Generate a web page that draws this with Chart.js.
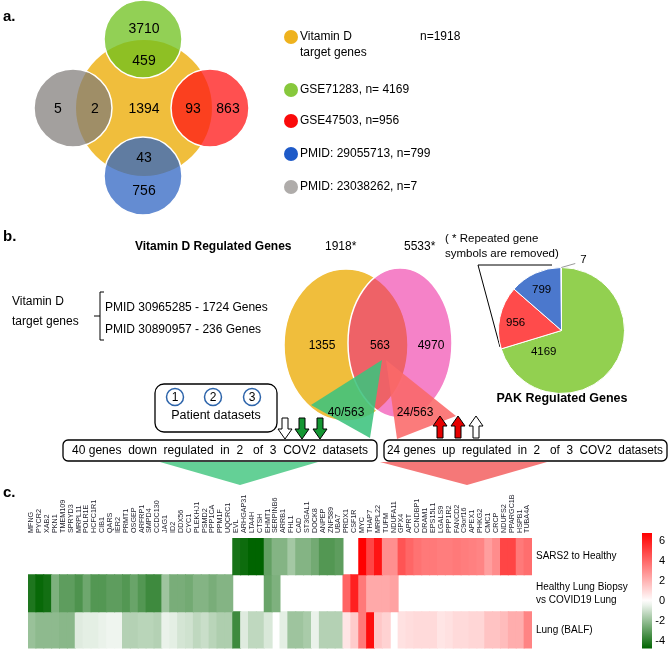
<!DOCTYPE html>
<html>
<head>
<meta charset="utf-8">
<title>Vitamin D and PAK regulated genes</title>
<script src="https://cdn.jsdelivr.net/npm/chart.js@4.4.1/dist/chart.umd.min.js"></script>
<style>
  html, body { margin: 0; padding: 0; background: #fff; }
  #page { position: relative; width: 671px; height: 659px; overflow: hidden; }
  #page canvas { position: absolute; }
</style>
</head>
<body>
<div id="page">
  <canvas id="venn" width="671" height="659" style="left:0;top:0"></canvas>
  <canvas id="pie" width="185" height="185" style="left:469px;top:238px"></canvas>
  <canvas id="heat" width="671" height="189" style="left:0;top:470px"></canvas>
</div>
<script>
const FONT = '"Liberation Sans", Arial, sans-serif';

// ---- panel a: vitamin D target genes vs other sets
const vennASets = ['Vitamin D target genes', 'GSE71283', 'GSE47503', 'PMID: 29055713', 'PMID: 23038262'];
const vennASizes = [1918, 4169, 956, 799, 7];
const vennAOnly = [1394, 3710, 863, 756, 5];
const vennAShared = [null, 459, 93, 43, 2];

// ---- panel b
const vennBTitle = 'Vitamin D Regulated Genes';
const vennBTotals = [1918, 5533];
const vennBCounts = [1355, 563, 4970];
const vitDSources = ['PMID 30965285 - 1724 Genes', 'PMID 30890957 - 236 Genes'];
const pakTitle = 'PAK Regulated Genes';
const pakSources = ['GSE71283', 'GSE47503', 'PMID: 29055713', 'PMID: 23038262'];
const pakCounts = [4169, 956, 799, 7];
const downGenes = 40;
const upGenes = 24;

// ---- panel c: heatmap
const genes = ['MFNG','PYCR2','XAB2','PKN1','TMEM109','SPRYD3','MRPL11','POLR1E','HCFC1R1','CIB1',
  'QARS','IER2','PRMT1','OSGEP','ARFRP1','SMPD4','CCDC130','JAG1','ID2','DDX56',
  'CYC1','PLEKHJ1','PSMD2','PPP1CA','PPM1F','UQCRC1','EVL','ARHGAP31','LTA4H','CTSH',
  'EHMT1','SERPINB6','ARRB1','FHL1','CAD','ST3GAL1','DOCK8','ANPEP','ZNF589','UBA7',
  'PRDX1','CSF1R','MYC','THAP7','MRPL22','TUFM','NDUFA11','GPX4','APRT','CCNDBP1',
  'DRAM1','EPS15L1','LGALS9','PPP1R2','FANCD2','C9orf16','APEX1','PHKG2','CMC1','CRCP',
  'NDUFS2','PPARGC1B','HSPB1','TUBA4A'];
const rowLabels = [['SARS2 to Healthy'], ['Healthy Lung Biopsy', 'vs COVID19 Lung'], ['Lung (BALF)']];
const sars2 = [
  null,null,null,null,null,null,null,null,null,null,
  null,null,null,null,null,null,null,null,null,null,
  null,null,null,null,null,null,
  -4.3,-4.5,-5,-5,-2.9,-2.3,-2.3,-1.7,-2.3,-2.3,-2.6,-3.2,-3.2,-3.0,
  null,null,
  6.8,5.0,6.3,3.0,3.0,4.6,4.1,3.8,3.6,3.6,3.5,3.5,3.6,3.5,3.4,3.3,2.6,3.1,5.0,5.0,3.6,3.9];
const biopsy = [
  -4.2,-4.6,-4.4,-2.4,-3.0,-3.0,-3.3,-2.7,-3.2,-3.2,
  -3.0,-3.0,-3.2,-2.8,-3.2,-3.6,-3.6,-1.8,-2.5,-2.5,
  -2.6,-2.3,-2.3,-2.5,-2.3,-2.3,
  null,null,null,null,-2.8,-2.4,null,null,null,null,null,null,null,null,
  4.2,6.0,3.6,2.3,2.3,2.3,2.5,
  null,null,null,null,null,null,null,null,null,null,null,null,null,null,null,null,null];
const balf = [
  -1.9,-2.1,-2.1,-2.1,-2.2,-2.2,-0.6,-0.5,-0.5,-0.4,
  -0.3,-0.3,-1.4,-1.4,-1.3,-1.3,-1.4,-0.4,-0.5,-0.8,
  -0.9,-1.2,-1.0,-1.3,-1.5,-1.5,
  -3.6,-0.6,-1.2,-1.2,-0.7,null,-0.5,-1.8,-1.8,-1.6,-0.4,-1.4,-1.4,-1.4,
  0.7,1.4,3.6,6.5,1.5,1.2,null,
  0.8,0.9,1.0,1.0,1.0,0.7,0.8,1.0,1.0,1.1,1.1,1.6,1.6,1.8,2.2,2.2,3.3];
const colorTicks = [6, 4, 2, 0, -2, -4];

// ---- layout (pixels)
const vennALayout = [
  { x: 144, y: 108, r: 68 },
  { x: 143, y: 39, r: 39 },
  { x: 210, y: 108, r: 39 },
  { x: 143, y: 176, r: 39 },
  { x: 73, y: 108, r: 39 }
];
const vennAFill = ['rgb(240,190,60)', 'rgba(109,192,28,0.75)', 'rgba(255,21,21,0.75)',
  'rgba(48,101,195,0.75)', 'rgba(128,124,120,0.72)'];
const vennAOnlyAt = [[144, 109], [144, 29], [228, 109], [144, 191], [58, 109]];
const vennASharedAt = [null, [144, 61], [193, 109], [144, 158], [95, 109]];
const legendDot = ['rgb(238,178,30)', 'rgb(135,200,60)', 'rgb(250,10,10)', 'rgb(30,90,200)', 'rgb(175,172,170)'];
const legendY = [37, 90, 121, 154, 187];

const vennBLayout = [
  { x: 346, y: 345, rx: 62, ry: 76, fill: 'rgb(240,190,60)' },
  { x: 400, y: 343, rx: 52, ry: 75, fill: 'rgba(235,5,145,0.5)' }
];
const vennBCountAt = [[322, 346], [380, 346], [431, 346]];

Chart.defaults.font.family = FONT;

function text(ctx, s, x, y, size, o = {}) {
  ctx.save();
  ctx.font = (o.bold ? 'bold ' : '') + size + 'px ' + FONT;
  ctx.fillStyle = o.color || '#000';
  ctx.textAlign = o.align || 'left';
  ctx.textBaseline = 'middle';
  if (o.maxW) ctx.fillText(s, x, y, o.maxW);
  else ctx.fillText(s, x, y);
  ctx.restore();
}

function poly(ctx, pts, fill, stroke) {
  ctx.beginPath();
  pts.forEach(([x, y], i) => (i ? ctx.lineTo(x, y) : ctx.moveTo(x, y)));
  ctx.closePath();
  if (fill) { ctx.fillStyle = fill; ctx.fill(); }
  if (stroke) { ctx.strokeStyle = stroke; ctx.lineWidth = 1; ctx.stroke(); }
}

function rbox(ctx, x, y, w, h, r) {
  ctx.beginPath();
  ctx.roundRect(x, y, w, h, r);
  ctx.strokeStyle = '#000';
  ctx.lineWidth = 1.3;
  ctx.stroke();
}

// vertical block arrow from tail to tip
function arrow(ctx, x, yTail, yTip, fill) {
  const d = Math.sign(yTip - yTail), yHead = yTip - d * 10;
  poly(ctx, [[x - 3, yTail], [x - 3, yHead], [x - 7, yHead], [x, yTip],
    [x + 7, yHead], [x + 3, yHead], [x + 3, yTail]], fill, '#000');
}

function ellipseImage(e) {
  const c = document.createElement('canvas');
  c.width = 2 * e.rx + 4;
  c.height = 2 * e.ry + 4;
  const g = c.getContext('2d');
  g.beginPath();
  g.ellipse(c.width / 2, c.height / 2, e.rx, e.ry, 0, 0, Math.PI * 2);
  g.fillStyle = e.fill;
  g.fill();
  g.strokeStyle = '#fff';
  g.lineWidth = 1.5;
  g.stroke();
  return c;
}

const annotations = {
  id: 'annotations',
  afterDatasetsDraw(chart) {
    const ctx = chart.ctx;
    // triangles from the overlap
    poly(ctx, [[382, 360], [311, 405], [370, 438]], 'rgba(60,195,125,0.88)');
    poly(ctx, [[386, 360], [456, 416], [397, 439]], 'rgba(250,105,105,0.88)');
    text(ctx, downGenes + '/' + vennBCounts[1], 346, 413, 12, { align: 'center' });
    text(ctx, upGenes + '/' + vennBCounts[1], 415, 413, 12, { align: 'center' });

    // panel a
    text(ctx, 'a.', 3, 17, 15, { bold: true });
    vennAOnly.forEach((v, i) => text(ctx, String(v), vennAOnlyAt[i][0], vennAOnlyAt[i][1], 14, { align: 'center' }));
    vennAShared.forEach((v, i) => v != null && text(ctx, String(v), vennASharedAt[i][0], vennASharedAt[i][1], 14, { align: 'center' }));
    legendDot.forEach((c, i) => {
      ctx.beginPath();
      ctx.arc(291, legendY[i], 7, 0, Math.PI * 2);
      ctx.fillStyle = c;
      ctx.fill();
    });
    text(ctx, 'Vitamin D', 300, 37, 12);
    text(ctx, 'target genes', 300, 53, 12);
    text(ctx, 'n=' + vennASizes[0], 420, 37, 12);
    for (let i = 1; i < vennASets.length; i++) {
      text(ctx, vennASets[i] + (i === 1 ? ', n= ' : ', n=') + vennASizes[i], 300, legendY[i], 12);
    }

    // panel b
    text(ctx, 'b.', 3, 237, 15, { bold: true });
    text(ctx, vennBTitle, 135, 247, 12, { bold: true });
    text(ctx, vennBTotals[0] + '*', 325, 247, 12);
    text(ctx, vennBTotals[1] + '*', 404, 247, 12);
    text(ctx, '( * Repeated gene', 445, 239, 11.5);
    text(ctx, 'symbols are removed)', 445, 254, 11.5);
    vennBCounts.forEach((v, i) => text(ctx, String(v), vennBCountAt[i][0], vennBCountAt[i][1], 12, { align: 'center' }));
    text(ctx, 'Vitamin D', 12, 302, 12);
    text(ctx, 'target genes', 12, 322, 12);
    ctx.beginPath();
    ctx.moveTo(104, 292); ctx.lineTo(100, 292); ctx.lineTo(100, 340); ctx.lineTo(104, 340);
    ctx.moveTo(94, 316); ctx.lineTo(100, 316);
    ctx.strokeStyle = '#000'; ctx.lineWidth = 1; ctx.stroke();
    text(ctx, vitDSources[0], 105, 308, 12);
    text(ctx, vitDSources[1], 105, 330, 12);
    ctx.beginPath();
    ctx.moveTo(552, 265); ctx.lineTo(478, 265); ctx.lineTo(500, 347);
    ctx.stroke();
    text(ctx, pakTitle, 562, 399, 12.5, { bold: true, align: 'center' });

    // patient datasets box and arrows
    rbox(ctx, 155, 384, 122, 48, 9);
    [175, 213, 252].forEach((cx, i) => {
      ctx.beginPath();
      ctx.arc(cx, 397, 8.5, 0, Math.PI * 2);
      ctx.strokeStyle = 'rgb(45,100,170)'; ctx.lineWidth = 1.5; ctx.stroke();
      text(ctx, String(i + 1), cx, 397.5, 12, { align: 'center' });
    });
    text(ctx, 'Patient datasets', 216, 416, 12.5, { align: 'center', maxW: 93 });
    arrow(ctx, 285, 418, 439, '#fff');
    arrow(ctx, 302, 418, 439, 'rgb(20,150,50)');
    arrow(ctx, 320, 418, 439, 'rgb(20,150,50)');
    arrow(ctx, 440, 438, 416, 'rgb(230,0,0)');
    arrow(ctx, 458, 438, 416, 'rgb(230,0,0)');
    arrow(ctx, 476, 438, 416, '#fff');

    rbox(ctx, 63, 440, 314, 21, 5);
    text(ctx, downGenes + ' genes  down  regulated  in  2   of  3  COV2  datasets', 220, 451, 12.5, { align: 'center', maxW: 296 });
    rbox(ctx, 384, 440, 283, 21, 5);
    text(ctx, upGenes + ' genes  up  regulated  in  2   of  3  COV2  datasets', 525, 451, 12.5, { align: 'center', maxW: 276 });
    poly(ctx, [[160, 462], [318, 462], [240, 485]], 'rgb(100,208,150)');
    poly(ctx, [[380, 462], [547, 462], [467, 485]], 'rgb(245,120,120)');

    text(ctx, 'c.', 3, 493, 15, { bold: true });
  }
};

new Chart(document.getElementById('venn'), {
  type: 'bubble',
  data: {
    datasets: [
      {
        label: 'Vitamin D target genes overlap',
        data: vennALayout.map(p => ({ x: p.x, y: p.y, r: p.r })),
        backgroundColor: vennAFill,
        borderColor: '#fff',
        borderWidth: [0, 1.5, 1.5, 1.5, 1.5],
        clip: false
      },
      {
        label: 'Vitamin D vs PAK',
        data: vennBLayout.map(e => ({ x: e.x, y: e.y, r: e.rx })),
        pointStyle: vennBLayout.map(ellipseImage),
        backgroundColor: 'rgba(0,0,0,0)',
        borderWidth: 0,
        clip: false
      }
    ]
  },
  options: {
    responsive: false,
    animation: false,
    events: [],
    layout: { padding: 0, autoPadding: false },
    plugins: { legend: { display: false }, tooltip: { enabled: false } },
    scales: {
      x: { type: 'linear', display: false, min: 0, max: 671 },
      y: { type: 'linear', display: false, min: 0, max: 659, reverse: true }
    }
  },
  plugins: [annotations]
});

// pie of the PAK sources
const pieLabelAt = [[220, 0.44], [280, 0.74], [334, 0.72], null];
new Chart(document.getElementById('pie'), {
  type: 'pie',
  data: {
    labels: pakSources,
    datasets: [{
      data: pakCounts,
      backgroundColor: ['rgb(146,208,80)', 'rgb(255,75,75)', 'rgb(75,120,205)', 'rgb(165,165,165)'],
      borderColor: '#fff',
      borderWidth: 1
    }]
  },
  options: {
    responsive: false,
    animation: false,
    events: [],
    layout: { padding: 29 },
    plugins: { legend: { display: false }, tooltip: { enabled: false } }
  },
  plugins: [{
    id: 'pieLabels',
    afterDatasetsDraw(chart) {
      const ctx = chart.ctx;
      chart.getDatasetMeta(0).data.forEach((arc, i) => {
        const { x, y, outerRadius, startAngle, endAngle } = arc;
        const at = pieLabelAt[i];
        if (at) {
          const a = at[0] * Math.PI / 180, d = at[1] * outerRadius;
          text(ctx, String(pakCounts[i]), x + d * Math.sin(a), y - d * Math.cos(a), 11.5, { align: 'center' });
        } else {
          const m = (startAngle + endAngle) / 2;
          const px = x + outerRadius * Math.cos(m), py = y + outerRadius * Math.sin(m);
          ctx.beginPath();
          ctx.moveTo(px, py); ctx.lineTo(px + 14, py - 4);
          ctx.strokeStyle = '#999'; ctx.lineWidth = 1; ctx.stroke();
          text(ctx, String(pakCounts[i]), px + 19, py - 8, 11.5);
        }
      });
    }
  }]
});

// heatmap
const cbar = { x: 642, w: 10, vMax: 6.85, vMin: -4.75, topPad: 5 };
function heatColor(v) {
  if (v >= 0) {
    const t = Math.min(v / cbar.vMax, 1), c = Math.round(255 * (1 - t));
    return `rgb(255,${c},${c})`;
  }
  const t = Math.min(v / cbar.vMin, 1);
  return `rgb(${Math.round(255 * (1 - t))},${Math.round(255 - 155 * t)},${Math.round(255 * (1 - t))})`;
}
const heatRows = [sars2, biopsy, balf];

new Chart(document.getElementById('heat'), {
  type: 'bar',
  data: {
    labels: genes,
    datasets: heatRows.map((row, r) => ({
      label: rowLabels[r].join(' '),
      data: row.map(v => (v == null ? null : [r, r + 1])),
      backgroundColor: row.map(v => (v == null ? 'rgba(0,0,0,0)' : heatColor(v))),
      borderWidth: 0,
      borderSkipped: false,
      grouped: false,
      barPercentage: 1,
      categoryPercentage: 1,
      inflateAmount: 0.5
    }))
  },
  options: {
    responsive: false,
    animation: false,
    events: [],
    layout: { padding: { left: 28, right: 0, top: 0, bottom: 2 } },
    plugins: { legend: { display: false }, tooltip: { enabled: false } },
    scales: {
      x: {
        type: 'category',
        position: 'top',
        grid: { display: false, drawTicks: false },
        border: { display: false },
        ticks: {
          autoSkip: false, minRotation: 90, maxRotation: 90, padding: 5, labelOffset: 8,
          color: '#1c1c28', font: { size: 7.2 }
        },
        afterFit(s) { s.height = 68; }
      },
      y: {
        type: 'linear',
        position: 'right',
        min: 0, max: 3, reverse: true,
        grid: { display: false, drawTicks: false },
        border: { display: false },
        afterBuildTicks(s) { s.ticks = [0.5, 1.5, 2.5].map(v => ({ value: v })); },
        ticks: {
          padding: 4, color: '#000', font: { size: 10, lineHeight: 1.3 },
          callback: v => rowLabels[Math.floor(v)]
        },
        afterFit(s) { s.width = 139; }
      }
    }
  },
  plugins: [{
    id: 'colorBar',
    afterDraw(chart) {
      const { ctx, chartArea } = chart;
      const y0 = chartArea.top - cbar.topPad, y1 = chartArea.bottom;
      const yOf = v => y0 + (cbar.vMax - v) / (cbar.vMax - cbar.vMin) * (y1 - y0);
      const g = ctx.createLinearGradient(0, y0, 0, y1);
      for (let k = 0; k <= 24; k++) {
        g.addColorStop(k / 24, heatColor(cbar.vMax - k * (cbar.vMax - cbar.vMin) / 24));
      }
      ctx.fillStyle = g;
      ctx.fillRect(cbar.x, y0, cbar.w, y1 - y0);
      colorTicks.forEach(v => text(ctx, String(v), 665, yOf(v), 11, { align: 'right' }));
    }
  }]
});
</script>
</body>
</html>
